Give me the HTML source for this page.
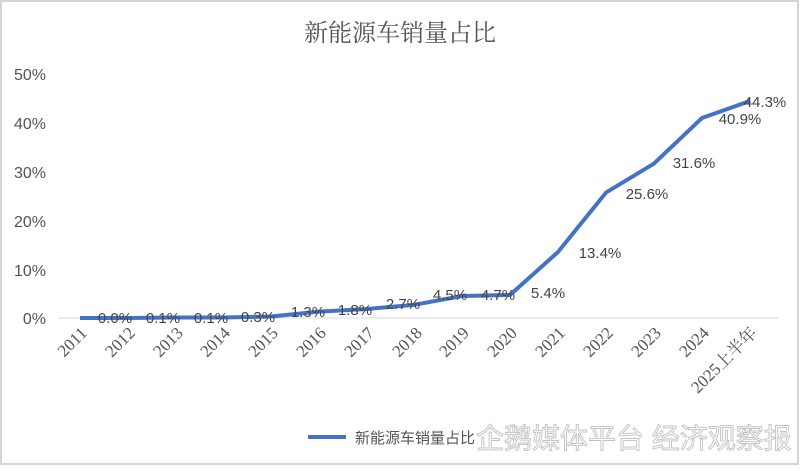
<!DOCTYPE html>
<html><head><meta charset="utf-8"><style>
body{margin:0;width:800px;height:466px;background:#fff;overflow:hidden;font-family:"Liberation Sans","Noto Sans CJK SC",sans-serif}
</style></head><body>
<svg width="800" height="466" xmlns="http://www.w3.org/2000/svg" font-family="Liberation Sans, Noto Sans CJK SC, sans-serif">
<rect x="1" y="1" width="797" height="463" fill="#fff" stroke="#d4d4d4" stroke-width="2"/>
<text x="400" y="41" text-anchor="middle" font-size="24" fill="#555" font-family="Noto Serif CJK SC, serif">新能源车销量占比</text>
<g font-size="16" fill="#555" text-anchor="end">
<text x="46" y="80">50%</text><text x="46" y="129">40%</text><text x="46" y="178">30%</text>
<text x="46" y="227">20%</text><text x="46" y="276">10%</text><text x="46" y="324">0%</text>
</g>
<line x1="58" y1="318" x2="778" y2="318" stroke="#d9d9d9" stroke-width="1"/>
<polyline fill="none" stroke="#4472c4" stroke-width="4" stroke-linejoin="round"
points="80,318 128,318 176,317.5 223,317.5 271,316.5 319,311.6 367,309 415,304.7 462,296 510,295 558,252 606,192.6 654,163.6 702,118 750,101"/>
<g font-size="15" fill="#444" text-anchor="middle">
<text x="115" y="323">0.0%</text><text x="163" y="323">0.1%</text><text x="211" y="323">0.1%</text>
<text x="258" y="322">0.3%</text><text x="308" y="317">1.3%</text><text x="355" y="315">1.8%</text>
<text x="403" y="309">2.7%</text><text x="450" y="300">4.5%</text><text x="498" y="300">4.7%</text>
<text x="548" y="298">5.4%</text><text x="600" y="258">13.4%</text><text x="647" y="199">25.6%</text>
<text x="694" y="168">31.6%</text><text x="740" y="124">40.9%</text><text x="765" y="107">44.3%</text>
</g>
<g font-size="17" fill="#555" text-anchor="end" font-family="Liberation Serif, Noto Serif CJK SC, serif">
<text transform="translate(88,334) rotate(-45)">2011</text>
<text transform="translate(136,334) rotate(-45)">2012</text>
<text transform="translate(184,334) rotate(-45)">2013</text>
<text transform="translate(231,334) rotate(-45)">2014</text>
<text transform="translate(279,334) rotate(-45)">2015</text>
<text transform="translate(327,334) rotate(-45)">2016</text>
<text transform="translate(375,334) rotate(-45)">2017</text>
<text transform="translate(423,334) rotate(-45)">2018</text>
<text transform="translate(470,334) rotate(-45)">2019</text>
<text transform="translate(518,334) rotate(-45)">2020</text>
<text transform="translate(566,334) rotate(-45)">2021</text>
<text transform="translate(614,334) rotate(-45)">2022</text>
<text transform="translate(662,334) rotate(-45)">2023</text>
<text transform="translate(710,334) rotate(-45)">2024</text>
<text transform="translate(758,334) rotate(-45)">2025上半年</text>
</g>
<line x1="308" y1="437" x2="346" y2="437" stroke="#4472c4" stroke-width="4"/>
<text x="355" y="443" font-size="15" fill="#555">新能源车销量占比</text>
<text x="476" y="448" font-size="28" fill="#fff" stroke="#bbb" stroke-width="0.9" opacity="0.9">企鹅媒体平台 经济观察报</text>
</svg>
</body></html>
